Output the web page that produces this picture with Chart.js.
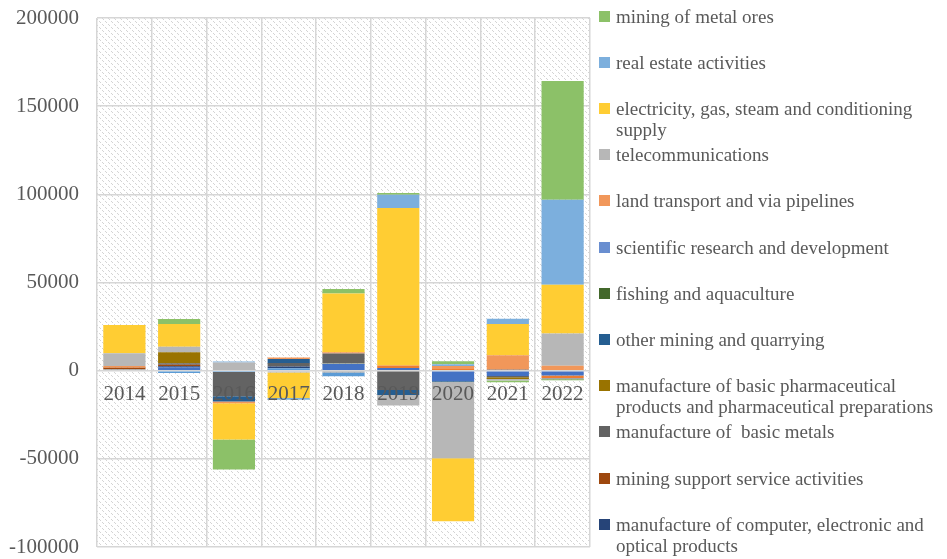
<!DOCTYPE html>
<html>
<head>
<meta charset="utf-8">
<script src="https://cdn.jsdelivr.net/npm/chart.js@4.4.1/dist/chart.umd.min.js"></script>
<style>
  html, body { margin: 0; padding: 0; background: #fff; overflow: hidden; }
  #wrap { position: relative; width: 947px; height: 559px; }
  #legend { position: absolute; left: 0; top: 0; width: 947px; height: 559px; pointer-events: none; }
  .lg-item { position: absolute; left: 599px; width: 348px; font: 19px "Liberation Serif", serif; color: #595959; line-height: 21px; }
  .lg-box { position: absolute; left: 0; top: 5px; width: 11px; height: 11px; }
  .lg-text { margin-left: 17px; white-space: pre-wrap; width: 331px; }
</style>
</head>
<body>
<div id="wrap">
  <canvas id="chart" width="947" height="559"></canvas>
  <div id="legend"></div>
</div>
<script>
// ── DATA ──
const years = ['2014','2015','2016','2017','2018','2019','2020','2021','2022'];

// unnamed series at the bottom of the stack (not shown in the legend)
const seriesA = [0, 1900, 0, 0, 4000, 1500, -5800, -3000, -2800];
const seriesB = [0, 0, 0, 0, 0, 1500, 1000, 0, -1400];
const seriesC = [800, 0, 0, 0, -1100, 0, 0, 0, -700];
const seriesD = [0, 0, 0, 0, 400, 0, 0, 0, 0];
const seriesE = [0, -1300, -700, 1300, -2000, 0, 0, 0, 0];
const seriesF = [0, 0, 0, 0, 0, 0, 0, 0, -500];

// named series (legend)
const computer      = [0, 600, 0, 1100, 0, 0, 0, 0, 0];
const miningSupport = [900, 800, 0, 0, 0, 0, 0, 0, 0];
const basicMetals   = [-500, 900, -13800, 1900, 5400, -11000, 0, -700, 0];
const pharma        = [0, 6200, 0, 0, 0, 0, 0, -1000, 0];
const otherMining   = [0, 0, -3000, 2300, 0, -2800, -500, 500, 0];
const fishing       = [0, 0, 0, 0, 0, 0, 0, 0, 0];
const scientific    = [0, 0, 0, 0, 0, 0, 0, 0, 0];
const landTransport = [950, 0, -1000, 900, 600, 0, 1700, 8300, 2800];
const telecom       = [7200, 3200, 4700, -1000, 0, -6000, -43400, -900, 18300];
const electricity   = [16000, 12900, -20500, -14500, 33400, 89200, -35700, 17700, 27600];
const realEstate    = [0, 0, 500, -1000, 0, 7600, 900, 3000, 48200];
const metalOres     = [0, 2800, -17000, 0, 2500, 900, 1700, -900, 67400];

const yTicks = { min: -100000, max: 200000, step: 50000 };

// ── DATASETS (bottom of stack first) ──
const series = [
  ['series 1', seriesA, '#4472C4', false],
  ['series 2', seriesB, '#ED7D31', false],
  ['series 3', seriesC, '#A5A5A5', false],
  ['series 4', seriesD, '#FFC000', false],
  ['series 5', seriesE, '#5B9BD5', false],
  ['series 6', seriesF, '#70AD47', false],
  ['manufacture of computer, electronic and optical products', computer, '#264478', true],
  ['mining support service activities', miningSupport, '#9E480E', true],
  ['manufacture of  basic metals', basicMetals, '#636363', true],
  ['manufacture of basic pharmaceutical products and pharmaceutical preparations', pharma, '#997300', true],
  ['other mining and quarrying', otherMining, '#255E91', true],
  ['fishing and aquaculture', fishing, '#43682B', true],
  ['scientific research and development', scientific, '#698ED0', true],
  ['land transport and via pipelines', landTransport, '#F1975A', true],
  ['telecommunications', telecom, '#B7B7B7', true],
  ['electricity, gas, steam and conditioning supply', electricity, '#FFCD33', true],
  ['real estate activities', realEstate, '#7CAFDD', true],
  ['mining of metal ores', metalOres, '#8CC168', true]
];

// ── HATCHED PLOT BACKGROUND ──
function makeHatch() {
  const c = document.createElement('canvas');
  c.width = 6; c.height = 6;
  const g = c.getContext('2d');
  g.fillStyle = '#ffffff';
  g.fillRect(0, 0, 6, 6);
  g.fillStyle = '#d4d4d4';
  for (let i = 0; i < 6; i++) {
    if (i % 3 === 2) continue;
    g.fillRect(i, i, 1, 1);
  }
  return g.createPattern(c, 'repeat');
}
const hatchPlugin = {
  id: 'hatch',
  beforeDraw(chart) {
    const { ctx, chartArea: a } = chart;
    ctx.save();
    ctx.fillStyle = makeHatch();
    ctx.fillRect(a.left, a.top, a.right - a.left, a.bottom - a.top);
    ctx.restore();
  }
};

const gridColor = '#d6d6d6';
const chart = new Chart(document.getElementById('chart'), {
  type: 'bar',
  data: {
    labels: years,
    datasets: series.map(s => ({
      label: s[0],
      data: s[1],
      backgroundColor: s[2],
      borderWidth: 0,
      inLegend: s[3],
      barPercentage: 0.77,
      categoryPercentage: 1
    }))
  },
  options: {
    responsive: false,
    animation: false,
    layout: { padding: { left: 0, right: 357, top: 18, bottom: 12 } },
    plugins: { legend: { display: false }, tooltip: { enabled: false } },
    scales: {
      x: {
        stacked: true,
        position: { y: 0 },
        grid: { color: gridColor, lineWidth: 1.5, drawTicks: false, z: -1 },
        border: { display: false },
        ticks: {
          z: 1,
          color: '#595959',
          padding: 11,
          font: { family: 'Liberation Serif', size: 21 }
        }
      },
      y: {
        stacked: true,
        min: yTicks.min,
        max: yTicks.max,
        afterFit: s => { s.width = 97; s.paddingTop = 0; s.paddingBottom = 0; },
        grid: { color: gridColor, lineWidth: 1.5, drawTicks: false },
        border: { display: false },
        ticks: {
          stepSize: yTicks.step,
          padding: 18,
          color: '#595959',
          font: { family: 'Liberation Serif', size: 21 },
          callback: v => String(v)
        }
      }
    }
  },
  plugins: [hatchPlugin]
});

// ── LEGEND (top of stack first) ──
const legend = document.getElementById('legend');
chart.data.datasets.filter(d => d.inLegend).reverse().forEach((d, i) => {
  const item = document.createElement('div');
  item.className = 'lg-item';
  item.style.top = (5.5 + i * 46.2) + 'px';
  item.innerHTML = '<div class="lg-box" style="background:' + d.backgroundColor + '"></div>';
  const t = document.createElement('div');
  t.className = 'lg-text';
  t.textContent = d.label;
  item.appendChild(t);
  legend.appendChild(item);
});
</script>
</body>
</html>
